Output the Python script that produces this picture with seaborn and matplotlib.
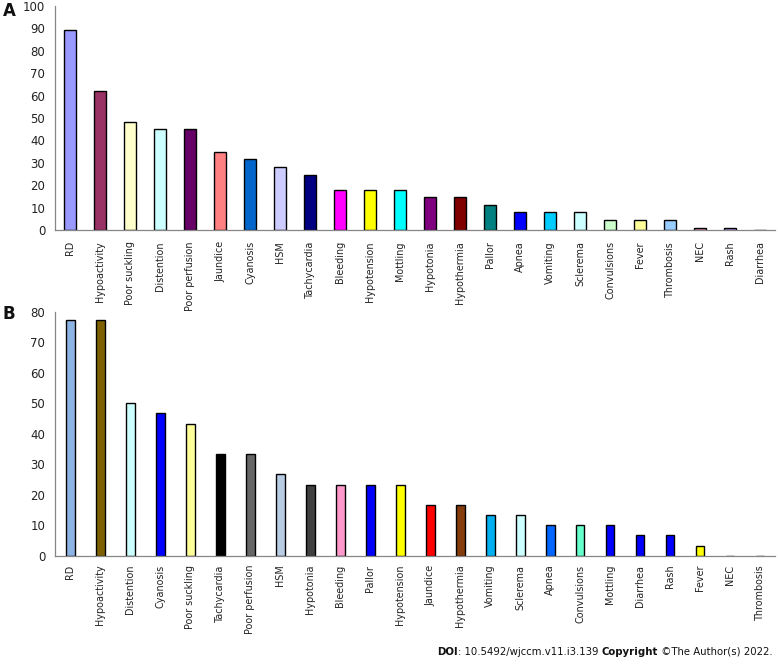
import matplotlib
matplotlib.use("Agg")
import matplotlib.pyplot as plt
import seaborn as sns
import numpy as np

# ---------------- data ----------------
cats_a = ["RD", "Hypoactivity", "Poor suckling", "Distention", "Poor perfusion", "Jaundice",
          "Cyanosis", "HSM", "Tachycardia", "Bleeding", "Hypotension", "Mottling", "Hypotonia",
          "Hypothermia", "Pallor", "Apnea", "Vomiting", "Sclerema", "Convulsions", "Fever",
          "Thrombosis", "NEC", "Rash", "Diarrhea"]
vals_a = [89.3, 62.0, 48.3, 44.9, 44.9, 34.8, 31.5, 28.1, 24.7, 18.0, 18.0, 18.0, 14.6,
          14.6, 11.2, 7.9, 7.9, 7.9, 4.5, 4.5, 4.5, 1.1, 1.1, 0.0]
colors_a = ["#9999FF", "#993366", "#FFFFCC", "#CCFFFF", "#660066", "#FF8080", "#0066CC",
            "#CCCCFF", "#000080", "#FF00FF", "#FFFF00", "#00FFFF", "#800080", "#800000",
            "#008080", "#0000FF", "#00CCFF", "#CCFFFF", "#CCFFCC", "#FFFF99", "#99CCFF",
            "#FF99CC", "#CC99FF", "#FFFFFF"]

cats_b = ["RD", "Hypoactivity", "Distention", "Cyanosis", "Poor suckling", "Tachycardia",
          "Poor perfusion", "HSM", "Hypotonia", "Bleeding", "Pallor", "Hypotension", "Jaundice",
          "Hypothermia", "Vomiting", "Sclerema", "Apnea", "Convulsions", "Mottling", "Diarrhea",
          "Rash", "Fever", "NEC", "Thrombosis"]
vals_b = [77.3, 77.3, 50.0, 46.7, 43.3, 33.3, 33.3, 26.7, 23.3, 23.3, 23.3, 23.3, 16.7,
          16.7, 13.3, 13.3, 10.0, 10.0, 10.0, 6.7, 6.7, 3.3, 0.0, 0.0]
colors_b = ["#8DB4E2", "#7F6000", "#CCFFFF", "#0000FF", "#FFFF99", "#000000", "#666666",
            "#B8CCE4", "#404040", "#FF99CC", "#0000FF", "#FFFF00", "#FF0000", "#843C0C",
            "#00B0F0", "#CCFFFF", "#0066FF", "#66FFCC", "#0000FF", "#0000FF", "#0000FF",
            "#FFFF00", "#FFFFFF", "#FFFFFF"]

yticks_a = [0, 10, 20, 30, 40, 50, 60, 70, 80, 90, 100]
yticks_b = [0, 10, 20, 30, 40, 50, 60, 70, 80]

# ---------------- figure ----------------
sns.set_theme(style="white")
plt.rcParams["font.family"] = ["DejaVu Sans"]

W, H = 778, 668
fig = plt.figure(figsize=(W / 100, H / 100), dpi=100)

axis_col = "#868686"
txt_col = "#222222"


def panel(rect, cats, vals, cols, yticks, width, letter, letter_y, pad):
    ax = fig.add_axes(rect)
    ax.patch.set_alpha(0)
    sns.barplot(x=cats, y=vals, hue=cats, palette=cols, legend=False, width=width,
                edgecolor="black", linewidth=1.0, ax=ax, saturation=1)
    ax.set_xlim(-0.5, len(cats) - 0.5)
    ax.set_ylim(yticks[0], yticks[-1])
    ax.set_yticks(yticks)
    ax.set_yticklabels([str(t) for t in yticks], fontsize=8.5, color=txt_col)
    ax.set_xticks(range(len(cats)))
    ax.set_xticklabels(cats, rotation=90, fontsize=6.9, color=txt_col)
    ax.set_xticks(np.arange(-0.5, len(cats) + 0.5, 1), minor=True)
    ax.tick_params(axis="x", which="major", length=0, pad=pad)
    ax.tick_params(axis="x", which="minor", length=4, width=0.8, color=axis_col, direction="out")
    ax.tick_params(axis="y", which="major", length=4, width=0.8, color=axis_col, direction="out", pad=3)
    for s in ["top", "right"]:
        ax.spines[s].set_visible(False)
    for s in ["left", "bottom"]:
        ax.spines[s].set_color(axis_col)
        ax.spines[s].set_linewidth(0.9)
    ax.set_xlabel("")
    ax.set_ylabel("")
    ax.grid(False)
    fig.text(3 / W, 1 - letter_y / H, letter, fontsize=12, fontweight="bold", color="#111111",
             va="center", ha="left")
    return ax


axA = panel([55 / W, 1 - 230 / H, 720 / W, 224 / H], cats_a, vals_a, colors_a, yticks_a, 0.4,
            "A", 11, 8)
axB = panel([55 / W, 1 - 555.7 / H, 720 / W, 244 / H], cats_b, vals_b, colors_b, yticks_b, 0.3,
            "B", 314, 6.5)

# footer, built from the right edge leftwards
fs = 7.3
t4 = fig.text(773 / W, 1 - 652 / H, " \u00a9The Author(s) 2022.", fontsize=fs, color="#111111",
              va="center", ha="right")
t3 = axB.annotate("Copyright", xycoords=t4, xy=(0, 0), va="bottom", ha="right", fontsize=fs,
                  fontweight="bold", color="#111111", annotation_clip=False)
t2 = axB.annotate(": 10.5492/wjccm.v11.i3.139 ", xycoords=t3, xy=(0, 0), va="bottom",
                  ha="right", fontsize=fs, color="#111111", annotation_clip=False)
t1 = axB.annotate("DOI", xycoords=t2, xy=(0, 0), va="bottom", ha="right", fontsize=fs,
                  fontweight="bold", color="#111111", annotation_clip=False)

fig.savefig("out.png", dpi=100, facecolor="white")
